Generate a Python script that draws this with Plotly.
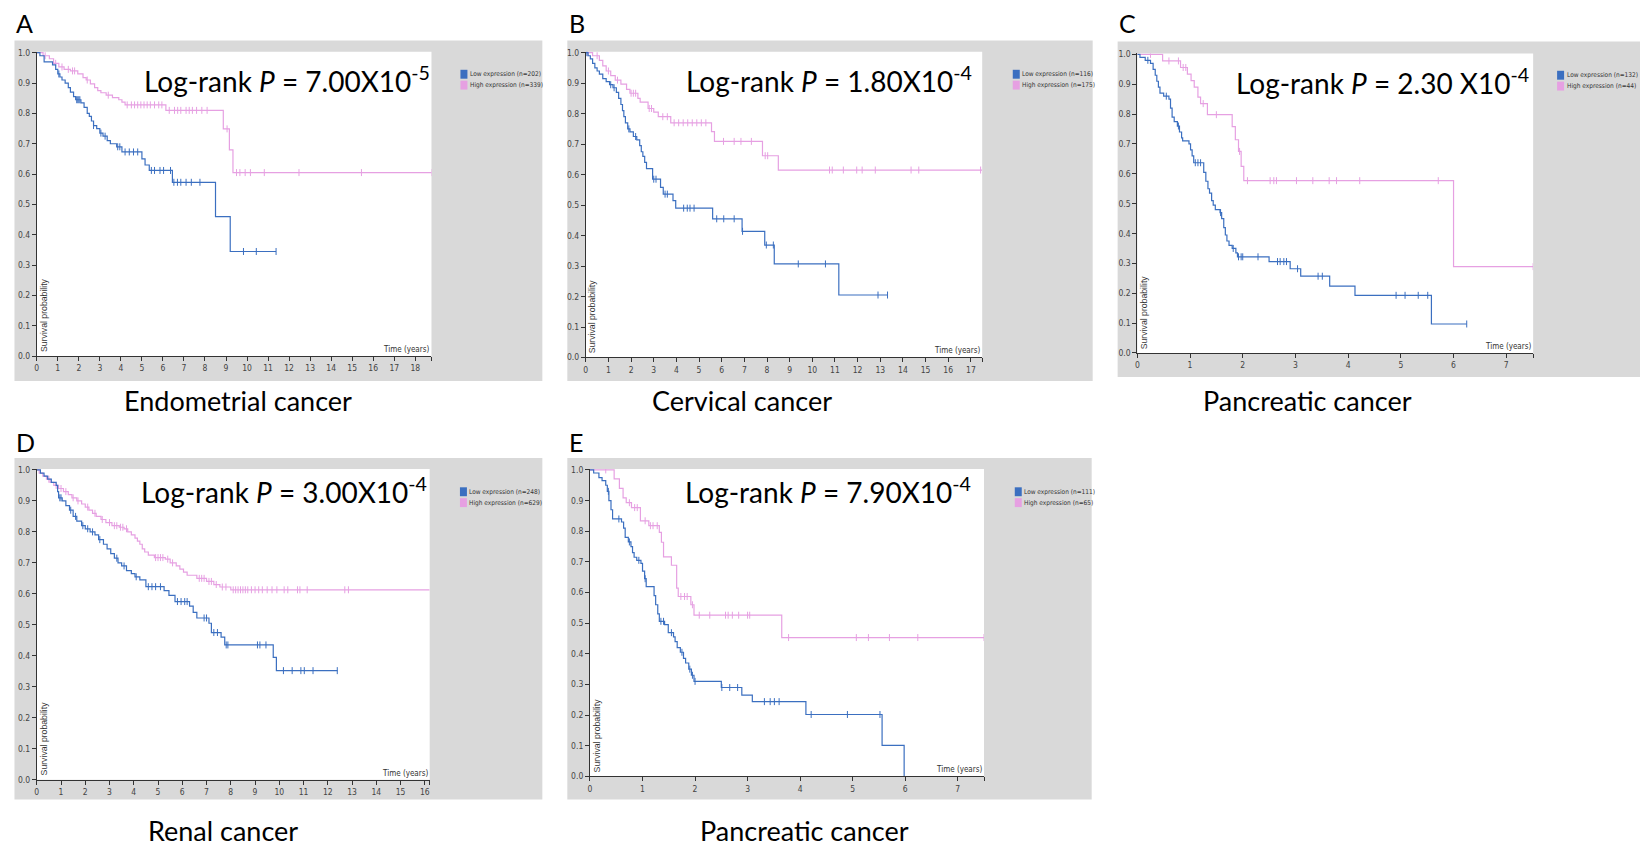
import plotly.graph_objects as go
import bisect

W, H = 1640, 846
BLUE = "#3b6fc0"
PINK = "#e6a0e2"

# ---------------- DATA ----------------
panel_letters = ["A", "B", "C", "D", "E"]
panel_titles = ["Endometrial cancer", "Cervical cancer", "Pancreatic cancer", "Renal cancer", "Pancreatic cancer"]
pvalue_texts = ["7.00X10<sup>-5</sup>", "1.80X10<sup>-4</sup>", "2.30 X10<sup>-4</sup>",
                "3.00X10<sup>-4</sup>", "7.90X10<sup>-4</sup>"]
n_low = [202, 116, 132, 248, 111]
n_high = [339, 175, 44, 629, 65]
x_max = [18.77, 17.5, 7.51, 16.2, 7.5]
x_tick_max = [18, 17, 7, 16, 7]
y_ticks = [0.0, 0.1, 0.2, 0.3, 0.4, 0.5, 0.6, 0.7, 0.8, 0.9, 1.0]
y_tick_labels = ["0.0", "0.1", "0.2", "0.3", "0.4", "0.5", "0.6", "0.7", "0.8", "0.9", "1.0"]

# Panel A - Endometrial
A_low_t = [0, 0.15, 0.35, 0.75, 0.9, 1.0, 1.1, 1.2, 1.35, 1.5, 1.6, 1.75, 1.85, 2.1, 2.25, 2.4, 2.5, 2.6, 2.7,
           2.85, 3.0, 3.15, 3.35, 3.5, 3.8, 4.05, 5.0, 5.15, 5.35, 6.45, 8.5, 9.2]
A_low_s = [1.0, 0.99, 0.97, 0.96, 0.945, 0.93, 0.92, 0.91, 0.90, 0.885, 0.87, 0.855, 0.845, 0.835, 0.82, 0.80,
           0.79, 0.775, 0.76, 0.75, 0.735, 0.725, 0.71, 0.70, 0.69, 0.673, 0.65, 0.63, 0.612, 0.573, 0.46, 0.345]
A_low_end = 11.38
A_low_cens = [1.05, 1.9, 1.95, 2.0, 2.05, 2.7, 3.05, 3.25, 3.85, 3.95, 4.2, 4.4, 4.6, 4.8, 5.45, 5.6, 5.86,
              6.03, 6.36, 6.52, 6.69, 6.85, 7.1, 7.35, 7.76, 9.83, 10.44, 11.38]
A_high_t = [0, 0.3, 0.6, 0.8, 1.05, 1.3, 1.6, 1.95, 2.2, 2.35, 2.55, 2.75, 2.9, 3.05, 3.3, 3.6, 3.9, 4.05, 4.2,
            6.14, 8.87, 9.16, 9.33]
A_high_s = [1.0, 0.99, 0.98, 0.965, 0.953, 0.945, 0.94, 0.93, 0.918, 0.91, 0.897, 0.885, 0.875, 0.868, 0.86,
            0.852, 0.845, 0.837, 0.828, 0.81, 0.749, 0.68, 0.605]
A_high_end = 18.78
A_high_cens = [0.4, 0.9, 1.2, 1.5, 1.7, 1.8, 2.4, 3.4, 4.3, 4.5, 4.65, 4.8, 4.95, 5.1, 5.25, 5.4, 5.6, 5.8,
               5.95, 6.3, 6.55, 6.7, 6.85, 7.1, 7.25, 7.4, 7.6, 7.85, 8.1, 9.05, 9.5, 9.66, 9.91, 10.16, 10.82,
               12.47, 15.44, 18.78]

# Panel B - Cervical
B_low_t = [0, 0.1, 0.2, 0.3, 0.4, 0.5, 0.6, 0.75, 0.9, 1.05, 1.2, 1.35, 1.45, 1.55, 1.62, 1.68, 1.75, 1.85,
           1.95, 2.1, 2.25, 2.38, 2.45, 2.52, 2.6, 2.68, 2.95, 3.3, 3.42, 3.85, 3.97, 5.6, 6.9, 7.9, 8.32, 11.17]
B_low_s = [1.0, 0.99, 0.98, 0.965, 0.95, 0.94, 0.93, 0.915, 0.905, 0.895, 0.885, 0.87, 0.85, 0.83, 0.81, 0.79,
           0.77, 0.75, 0.74, 0.725, 0.714, 0.695, 0.675, 0.66, 0.64, 0.62, 0.585, 0.558, 0.536, 0.515, 0.49,
           0.455, 0.414, 0.369, 0.307, 0.205]
B_low_end = 13.32
B_low_cens = [0.05, 1.1, 1.25, 1.9, 2.2, 3.0, 3.1, 3.5, 3.6, 4.32, 4.48, 4.6, 4.78, 5.78, 6.09, 6.55, 6.92,
              7.97, 8.28, 9.38, 10.58, 12.9, 13.32]
B_high_t = [0, 0.3, 0.6, 0.75, 0.9, 1.1, 1.3, 1.55, 1.8, 1.95, 2.3, 2.4, 2.75, 3.0, 3.2, 3.75, 5.55, 5.68,
            7.8, 8.5]
B_high_s = [1.0, 0.99, 0.975, 0.957, 0.94, 0.925, 0.91, 0.897, 0.88, 0.867, 0.85, 0.838, 0.817, 0.805, 0.79,
            0.77, 0.741, 0.709, 0.662, 0.615]
B_high_end = 17.5
B_high_cens = [0.1, 0.5, 1.0, 1.4, 2.0, 2.1, 2.2, 2.8, 2.9, 3.4, 3.6, 3.9, 4.1, 4.3, 4.5, 4.7, 4.9, 5.1, 5.3,
               6.08, 6.55, 6.85, 7.31, 7.92, 8.03, 10.76, 10.88, 11.37, 11.96, 12.2, 12.78, 14.36, 14.7, 17.43]

# Panel C - Pancreatic
C_low_t = [0, 0.05, 0.15, 0.25, 0.3, 0.34, 0.37, 0.4, 0.43, 0.5, 0.6, 0.63, 0.66, 0.7, 0.76, 0.8, 0.84, 0.86,
           0.98, 1.01, 1.04, 1.07, 1.26, 1.3, 1.34, 1.37, 1.41, 1.44, 1.48, 1.57, 1.6, 1.64, 1.67, 1.7, 1.74,
           1.8, 1.87, 1.9, 2.5, 2.9, 3.1, 3.65, 4.13, 5.58]
C_low_s = [1.0, 0.99, 0.98, 0.97, 0.95, 0.93, 0.91, 0.89, 0.87, 0.86, 0.85, 0.82, 0.79, 0.775, 0.76, 0.74, 0.72,
           0.71, 0.70, 0.68, 0.66, 0.637, 0.605, 0.575, 0.55, 0.535, 0.51, 0.495, 0.48, 0.47, 0.45, 0.42, 0.395,
           0.375, 0.36, 0.35, 0.335, 0.322, 0.306, 0.282, 0.257, 0.224, 0.193, 0.097]
C_low_end = 6.25
C_low_cens = [0.2, 0.55, 0.78, 1.1, 1.15, 1.2, 1.58, 1.82, 1.92, 1.97, 2.0, 2.29, 2.66, 2.71, 2.78, 2.83,
              3.04, 3.43, 3.51, 4.91, 5.08, 5.33, 5.51, 6.25]
C_high_t = [0, 0.48, 0.82, 0.95, 1.02, 1.08, 1.15, 1.2, 1.33, 1.8, 1.86, 1.92, 1.97, 2.02, 6.0]
C_high_s = [1.0, 0.978, 0.956, 0.934, 0.912, 0.89, 0.857, 0.835, 0.798, 0.758, 0.714, 0.675, 0.625, 0.577, 0.289]
C_high_end = 7.51
C_high_cens = [0.25, 0.6, 0.78, 0.87, 0.92, 1.25, 1.5, 1.94, 2.09, 2.52, 2.59, 2.64, 3.02, 3.33, 3.64, 3.78,
               4.22, 5.71, 7.51]

# Panel D - Renal
D_low_t = [0, 0.15, 0.3, 0.45, 0.6, 0.8, 0.86, 0.9, 1.05, 1.2, 1.35, 1.5, 1.65, 1.85, 2.0, 2.2, 2.4, 2.55, 2.75,
           2.9, 3.05, 3.2, 3.35, 3.5, 3.7, 3.9, 4.05, 4.25, 4.5, 5.25, 5.45, 5.7, 6.3, 6.45, 6.6, 7.1, 7.2, 7.6,
           7.75, 9.75, 9.88]
D_low_s = [1.0, 0.99, 0.98, 0.97, 0.96, 0.95, 0.93, 0.91, 0.90, 0.885, 0.87, 0.85, 0.835, 0.82, 0.81, 0.80,
           0.79, 0.775, 0.76, 0.745, 0.73, 0.715, 0.70, 0.69, 0.675, 0.665, 0.655, 0.645, 0.623, 0.61, 0.595,
           0.575, 0.56, 0.54, 0.522, 0.505, 0.475, 0.46, 0.435, 0.395, 0.352]
D_low_end = 12.4
D_low_cens = [0.95, 1.0, 1.4, 1.6, 1.9, 2.1, 2.3, 2.6, 3.3, 3.6, 4.1, 4.6, 4.75, 4.9, 5.1, 5.8, 5.95, 6.1,
              6.2, 6.9, 7.0, 7.3, 7.45, 7.81, 7.88, 9.1, 9.2, 9.45, 10.17, 10.53, 10.89, 11.03, 11.39, 12.39]
D_high_t = [0, 0.1, 0.25, 0.4, 0.55, 0.7, 0.9, 1.1, 1.3, 1.45, 1.65, 1.85, 2.0, 2.15, 2.3, 2.45, 2.65, 2.85,
            3.1, 3.4, 3.6, 3.75, 3.9, 4.05, 4.15, 4.25, 4.35, 4.45, 4.6, 4.85, 5.3, 5.5, 5.75, 5.9, 6.05, 6.2,
            6.6, 7.0, 7.3, 7.55, 8.0]
D_high_s = [1.0, 0.99, 0.98, 0.97, 0.96, 0.95, 0.94, 0.93, 0.92, 0.91, 0.90, 0.89, 0.88, 0.87, 0.86, 0.85,
            0.84, 0.83, 0.82, 0.815, 0.81, 0.80, 0.79, 0.78, 0.77, 0.76, 0.745, 0.735, 0.725, 0.717, 0.712,
            0.70, 0.69, 0.68, 0.67, 0.66, 0.65, 0.64, 0.63, 0.622, 0.613]
D_high_end = 16.2
D_high_cens = [0.5, 0.8, 1.0, 1.2, 1.5, 1.7, 2.1, 2.4, 2.7, 3.0, 3.2, 3.3, 3.45, 3.55, 3.7, 4.9, 5.0, 5.1,
               5.2, 5.4, 5.6, 6.7, 6.8, 6.9, 7.1, 7.2, 7.4, 7.65, 7.8, 8.1, 8.2, 8.3, 8.4, 8.5, 8.6, 8.7, 8.85,
               9.0, 9.15, 9.3, 9.5, 9.7, 9.9, 10.2, 10.35, 10.75, 10.85, 11.15, 12.7, 12.85]

# Panel E - Pancreatic
E_low_t = [0, 0.07, 0.17, 0.23, 0.3, 0.33, 0.36, 0.4, 0.43, 0.6, 0.64, 0.67, 0.73, 0.78, 0.81, 0.84, 0.89,
           0.97, 1.0, 1.04, 1.07, 1.22, 1.25, 1.29, 1.32, 1.42, 1.49, 1.59, 1.62, 1.66, 1.72, 1.78, 1.82, 1.88,
           1.93, 1.98, 2.5, 2.89, 3.09, 4.11, 5.56, 5.98]
E_low_s = [1.0, 0.99, 0.975, 0.965, 0.95, 0.93, 0.90, 0.87, 0.84, 0.83, 0.81, 0.78, 0.765, 0.75, 0.73, 0.715,
           0.705, 0.695, 0.67, 0.645, 0.619, 0.59, 0.56, 0.53, 0.506, 0.495, 0.469, 0.455, 0.44, 0.42, 0.405,
           0.385, 0.37, 0.35, 0.33, 0.31, 0.29, 0.265, 0.244, 0.202, 0.101, 0.0]
E_low_end = 5.98
E_low_cens = [0.35, 0.55, 0.75, 0.93, 1.05, 1.35, 1.4, 1.55, 1.75, 1.9, 1.95, 2.0, 2.51, 2.66, 2.81, 3.32,
              3.43, 3.51, 3.6, 4.21, 4.9, 5.52]
E_high_t = [0, 0.46, 0.56, 0.63, 0.69, 0.79, 0.96, 1.12, 1.32, 1.36, 1.4, 1.55, 1.65, 1.68, 1.92, 1.98, 3.65]
E_high_s = [1.0, 0.971, 0.94, 0.909, 0.893, 0.877, 0.834, 0.818, 0.796, 0.764, 0.716, 0.689, 0.614, 0.587,
            0.56, 0.526, 0.453]
E_high_end = 7.5
E_high_cens = [0.3, 0.75, 0.85, 0.9, 1.05, 1.15, 1.2, 1.28, 1.73, 1.8, 1.85, 1.95, 2.08, 2.28, 2.58, 2.63,
               2.71, 2.83, 3.0, 3.04, 3.78, 5.07, 5.3, 5.7, 6.24, 7.5]

curves = [
    (A_low_t, A_low_s, A_low_end, A_low_cens, A_high_t, A_high_s, A_high_end, A_high_cens),
    (B_low_t, B_low_s, B_low_end, B_low_cens, B_high_t, B_high_s, B_high_end, B_high_cens),
    (C_low_t, C_low_s, C_low_end, C_low_cens, C_high_t, C_high_s, C_high_end, C_high_cens),
    (D_low_t, D_low_s, D_low_end, D_low_cens, D_high_t, D_high_s, D_high_end, D_high_cens),
    (E_low_t, E_low_s, E_low_end, E_low_cens, E_high_t, E_high_s, E_high_end, E_high_cens),
]

# ---------------- LAYOUT (pixel geometry) ----------------
plot_px = [(34.8, 430.0, 48.3, 356.0), (584.5, 981.4, 48.3, 357.3), (1136.7, 1533.0, 50.0, 352.7),
           (34.8, 428.2, 470.0, 784.0), (588.7, 983.2, 470.0, 780.7)]
gray_px = [(12.5, 541, 37, 381), (566, 1092, 37, 381), (1117, 1640, 38, 377),
           (12.5, 541, 459, 804), (566, 1091, 459, 804)]
legend_px = [(459, 71, 82), (1012, 71, 82), (1557, 72, 83), (458.5, 493, 504), (1014, 493, 504)]
letter_px = [(12, 19), (566, 19), (1116, 19), (12, 443), (566, 443)]
title_px = [(236, 401), (741, 401), (1307, 401), (221, 835), (803, 835)]
logrank_px = [(140, 76), (683, 76.5), (1234, 78.5), (137, 492), (682, 492)]


def fx(x):
    return x / W


def fy(y):
    return 1 - y / H


def surv_at(t, s, c):
    i = bisect.bisect_right(t, c) - 1
    return s[max(i, 0)]


fig = go.Figure()
shapes = []
annotations = []
NARROW = "Liberation Sans Narrow, Arial Narrow, DejaVu Sans Condensed, sans-serif"
CAL = "Lato, Carlito, Calibri, sans-serif"

for k in range(5):
    ax = "" if k == 0 else str(k + 1)
    xa, ya = "x" + ax, "y" + ax
    l, r, t, b = plot_px[k]
    lt, ls, lend, lc, ht, hs, hend, hc = curves[k]
    for (tt, ss, end, cc, col) in [(ht, hs, hend, hc, PINK), (lt, ls, lend, lc, BLUE)]:
        xs = list(tt) + ([end] if end > tt[-1] else [])
        ys = list(ss) + ([ss[-1]] if end > tt[-1] else [])
        fig.add_trace(go.Scatter(x=xs, y=ys, mode="lines", line=dict(color=col, width=1.2, shape="hv"),
                                 xaxis=xa, yaxis=ya, showlegend=False, hoverinfo="skip"))
        fig.add_trace(go.Scatter(x=cc, y=[surv_at(tt, ss, c) for c in cc], mode="markers",
                                 marker=dict(symbol="line-ns", size=5, line=dict(color=col, width=1)),
                                 xaxis=xa, yaxis=ya, showlegend=False, hoverinfo="skip"))

    xt = list(range(x_tick_max[k] + 1))
    axis_common = dict(showgrid=False, zeroline=False, showline=True, linecolor="#333", linewidth=1,
                       ticks="outside", ticklen=4, tickcolor="#333", tickwidth=1,
                       tickfont=dict(family=NARROW, size=8.5, color="#444"))
    fig.layout["xaxis" + ax] = dict(domain=[fx(l), fx(r)], range=[0, x_max[k]], anchor=ya,
                                    tickmode="array", tickvals=xt + [x_max[k]],
                                    ticktext=[str(v) for v in xt] + [""], **axis_common)
    fig.layout["yaxis" + ax] = dict(domain=[fy(b), fy(t)], range=[0, 1.003], anchor=xa,
                                    tickmode="array", tickvals=y_ticks, ticktext=y_tick_labels, **axis_common)

    gl, gr, gt, gb = gray_px[k]
    shapes.append(dict(type="rect", xref="paper", yref="paper", x0=fx(gl), x1=fx(gr), y0=fy(gb), y1=fy(gt),
                       fillcolor="#d9d9d9", line=dict(width=0), layer="below"))
    shapes.append(dict(type="rect", xref=xa + " domain", yref=ya + " domain", x0=0, x1=1, y0=0, y1=1,
                       fillcolor="white", line=dict(width=0), layer="below"))

    lx, r1, r2 = legend_px[k]
    for (ry, col, lab) in [(r1, BLUE, f"Low expression (n={n_low[k]})"),
                           (r2, PINK, f"High expression (n={n_high[k]})")]:
        shapes.append(dict(type="rect", xref="paper", yref="paper", x0=fx(lx), x1=fx(lx + 7),
                           y0=fy(ry + 4.5), y1=fy(ry - 4.5), fillcolor=col, line=dict(width=0), layer="above"))
        annotations.append(dict(xref="paper", yref="paper", x=fx(lx + 7.5), y=fy(ry), text=lab,
                                showarrow=False, xanchor="left", yanchor="middle",
                                font=dict(family=NARROW, size=6.5, color="#333")))

    annotations.append(dict(xref=xa + " domain", yref=ya + " domain", x=1, y=0, text="Time (years)",
                            showarrow=False, xanchor="right", yanchor="bottom",
                            font=dict(family=NARROW, size=8, color="#333")))
    annotations.append(dict(xref=xa + " domain", yref=ya + " domain", x=0, y=0, text="Survival probability",
                            showarrow=False, xanchor="left", yanchor="bottom", textangle=-90, xshift=0, yshift=2,
                            font=dict(family="Liberation Sans, Arial, sans-serif", size=8.7, color="#333")))

    px_, py_ = logrank_px[k]
    annotations.append(dict(xref="paper", yref="paper", x=fx(px_), y=fy(py_),
                            text="Log-rank <i>P</i> = " + pvalue_texts[k], showarrow=False,
                            xanchor="left", yanchor="middle", font=dict(family=CAL, size=28, color="black")))
    lx_, ly_ = letter_px[k]
    annotations.append(dict(xref="paper", yref="paper", x=fx(lx_), y=fy(ly_), text=panel_letters[k],
                            showarrow=False, xanchor="left", yanchor="middle",
                            font=dict(family=CAL, size=25, color="black")))
    tx, ty = title_px[k]
    annotations.append(dict(xref="paper", yref="paper", x=fx(tx), y=fy(ty), text=panel_titles[k],
                            showarrow=False, xanchor="center", yanchor="middle",
                            font=dict(family=CAL, size=27, color="black")))

fig.update_layout(width=W, height=H, margin=dict(l=0, r=0, t=0, b=0), paper_bgcolor="white",
                  plot_bgcolor="white", showlegend=False, shapes=shapes, annotations=annotations)

fig.write_html("out.html", config={"displayModeBar": False},
               post_script="document.body.style.margin='0';document.body.style.overflow='hidden';")
